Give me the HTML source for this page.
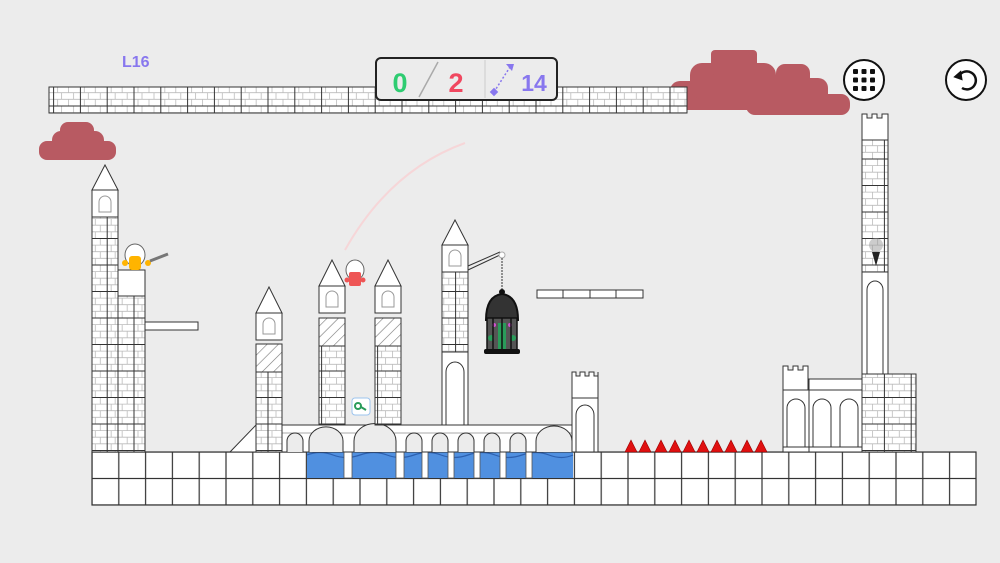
<!DOCTYPE html><html><head><style>html,body{margin:0;padding:0;background:#ececec}svg{display:block}</style></head><body>
<svg width="1000" height="563" viewBox="0 0 1000 563" xmlns="http://www.w3.org/2000/svg" font-family="Liberation Sans, sans-serif">
<defs>
<pattern id="br" width="26.8" height="26.5" patternUnits="userSpaceOnUse">
<rect width="26.8" height="26.5" fill="#fff"/>
<g stroke="#bbb" stroke-width="0.8" fill="none">
<path d="M0 6.6H26.8M0 13.2H26.8M0 19.8H26.8M8 0V6.6M20 0V6.6M4 6.6V13.2M15 6.6V13.2M8 13.2V19.8M20 13.2V19.8M4 19.8V26.5M15 19.8V26.5"/></g>
<rect width="26.8" height="26.5" fill="none" stroke="#333" stroke-width="1"/>
</pattern>
<pattern id="hat" width="8" height="8" patternUnits="userSpaceOnUse" patternTransform="rotate(45)">
<rect width="8" height="8" fill="#fff"/><line x1="0" y1="0" x2="0" y2="8" stroke="#777" stroke-width="1.2"/></pattern>
<pattern id="blk" width="26.8" height="26.5" patternUnits="userSpaceOnUse" x="92" y="452">
<rect width="26.8" height="26.5" fill="#fff" stroke="#333" stroke-width="1.2"/></pattern>
</defs>
<rect width="1000" height="563" fill="#ececec"/>
<!-- clouds -->
<g fill="#b85a62">
<rect x="39" y="141" width="77" height="19" rx="8"/><rect x="52" y="131" width="52" height="20" rx="9"/><rect x="60" y="122" width="34" height="18" rx="8"/>
<rect x="670" y="81" width="107" height="29" rx="10"/><rect x="690" y="63" width="86" height="36" rx="12"/><rect x="711" y="50" width="46" height="25" rx="4"/>
<rect x="746" y="94" width="104" height="21" rx="9"/><rect x="762" y="78" width="66" height="28" rx="10"/><rect x="776" y="64" width="34" height="24" rx="9"/>
</g>
<!-- top bar -->
<rect x="49" y="87" width="638" height="26" fill="url(#br)" stroke="#333"/>
<text x="122" y="67" font-size="16" fill="#8877ee" font-weight="bold">L16</text>
<!-- HUD -->
<rect x="376" y="58" width="181" height="42" rx="5" fill="#ececec" stroke="#222" stroke-width="2"/>
<line x1="438" y1="62" x2="419" y2="97" stroke="#aaa" stroke-width="1.5"/>
<line x1="485" y1="60" x2="485" y2="98" stroke="#ccc"/>
<text x="400" y="92" font-size="27" font-weight="bold" fill="#2ecc71" text-anchor="middle">0</text>
<text x="456" y="92" font-size="27" font-weight="bold" fill="#f04860" text-anchor="middle">2</text>
<line x1="494" y1="92" x2="510" y2="67" stroke="#8877ee" stroke-dasharray="2,2" stroke-width="1.5"/>
<polygon points="506,64 514,64 512,71" fill="#8877ee"/><rect x="491" y="89" width="6" height="6" fill="#8877ee" transform="rotate(45 494 92)"/>
<text x="534" y="91" font-size="23" font-weight="bold" fill="#8877ee" text-anchor="middle">14</text>
<!-- buttons -->
<circle cx="864" cy="80" r="20" fill="#fff" stroke="#111" stroke-width="2"/>
<g fill="#111"><rect x="853" y="69" width="5" height="5" rx="1"/><rect x="861.5" y="69" width="5" height="5" rx="1"/><rect x="870" y="69" width="5" height="5" rx="1"/><rect x="853" y="77.5" width="5" height="5" rx="1"/><rect x="861.5" y="77.5" width="5" height="5" rx="1"/><rect x="870" y="77.5" width="5" height="5" rx="1"/><rect x="853" y="86" width="5" height="5" rx="1"/><rect x="861.5" y="86" width="5" height="5" rx="1"/><rect x="870" y="86" width="5" height="5" rx="1"/></g>
<circle cx="966" cy="80" r="20" fill="#fff" stroke="#111" stroke-width="2"/>
<path d="M959 76 A9 9 0 1 1 962 88" fill="none" stroke="#111" stroke-width="2.5"/><polygon points="954,79 964,79 959,70" fill="#111" transform="rotate(20 959 76)"/>
<!-- trail -->
<path d="M345 250 Q390 170 465 143" fill="none" stroke="#f6d6d8" stroke-width="2"/>
<!-- ground -->
<rect x="92" y="452" width="884" height="53" fill="url(#blk)"/>
<rect x="92" y="452" width="884" height="53" fill="none" stroke="#333" stroke-width="1.2"/>
<!-- water -->
<rect x="307" y="452" width="266" height="26" fill="#5090e0"/>
<path d="M307 455 Q320 450 333 455 T360 455 T387 455 T414 455 T441 455 T468 455 T495 455 T522 455 T549 455 T573 455" fill="none" stroke="#2c60b0" stroke-width="1.2"/>
<g fill="#fff" stroke="#555" stroke-width="0.8"><rect x="344" y="452" width="8" height="26"/><rect x="396" y="452" width="8" height="26"/><rect x="422" y="452" width="6" height="26"/><rect x="448" y="452" width="6" height="26"/><rect x="474" y="452" width="6" height="26"/><rect x="500" y="452" width="6" height="26"/><rect x="526" y="452" width="6" height="26"/></g>
<!-- bridge -->
<rect x="282" y="425" width="290" height="27" fill="#fff" stroke="#333"/>
<line x1="282" y1="433" x2="572" y2="433" stroke="#aaa"/>
<g fill="#ececec" stroke="#333"><path d="M287 452V441a8 8 0 0 1 16 0V452"/><path d="M309 452V441a12 10 0 0 1 34 0V452"/><path d="M354 452V441a12 10 0 0 1 42 0V452"/><path d="M406 452V441a8 8 0 0 1 16 0V452"/><path d="M432 452V441a8 8 0 0 1 16 0V452"/><path d="M458 452V441a8 8 0 0 1 16 0V452"/><path d="M484 452V441a8 8 0 0 1 16 0V452"/><path d="M510 452V441a8 8 0 0 1 16 0V452"/><path d="M536 452V441a12 10 0 0 1 36 0V452"/></g>
<polygon points="230,452 256,425 256,452" fill="#fff" stroke="#333"/>
<!-- left tower -->
<polygon points="92,190 105,165 118,190" fill="#fff" stroke="#333"/>
<rect x="92" y="190" width="26" height="27" fill="#fff" stroke="#333"/>
<path d="M99 212V202a6 6 0 0 1 12 0V212Z" fill="none" stroke="#999"/>
<rect x="92" y="217" width="26" height="235" fill="url(#br)" stroke="#333"/>
<rect x="118" y="270" width="27" height="26" fill="#fff" stroke="#333"/>
<rect x="118" y="296" width="27" height="156" fill="url(#br)" stroke="#333"/>
<rect x="145" y="322" width="53" height="8" fill="#fff" stroke="#333"/>
<!-- yellow hero -->
<ellipse cx="135" cy="255" rx="10" ry="11" fill="#fff" stroke="#666"/>
<rect x="129" y="256" width="12" height="14" rx="3" fill="#ffb400"/>
<circle cx="125" cy="263" r="3" fill="#ffb400"/><circle cx="148" cy="263" r="3" fill="#ffb400"/>
<line x1="150" y1="261" x2="168" y2="254" stroke="#777" stroke-width="3"/>
<!-- tower A -->
<polygon points="256,313 269,287 282,313" fill="#fff" stroke="#333"/>
<rect x="256" y="313" width="26" height="27" fill="#fff" stroke="#333"/>
<path d="M263 334V324a6 6 0 0 1 12 0V334Z" fill="none" stroke="#999"/>
<rect x="256" y="344" width="26" height="28" fill="url(#hat)" stroke="#333"/>
<rect x="256" y="372" width="26" height="80" fill="url(#br)" stroke="#333"/>
<!-- tower B & C -->
<g id="tw">
<polygon points="319,286 332,260 345,286" fill="#fff" stroke="#333"/>
<rect x="319" y="286" width="26" height="27" fill="#fff" stroke="#333"/>
<path d="M326 307V297a6 6 0 0 1 12 0V307Z" fill="none" stroke="#999"/>
<rect x="319" y="318" width="26" height="28" fill="url(#hat)" stroke="#333"/>
<rect x="319" y="346" width="26" height="79" fill="url(#br)" stroke="#333"/>
</g>
<use href="#tw" x="56"/>
<!-- red hero -->
<ellipse cx="355" cy="270" rx="9" ry="10" fill="#fff" stroke="#666"/>
<rect x="349" y="272" width="12" height="14" rx="2" fill="#ee5555"/>
<circle cx="347" cy="280" r="2.5" fill="#ee5555"/><circle cx="363" cy="280" r="2.5" fill="#ee5555"/>
<!-- key bubble -->
<rect x="352" y="398" width="18" height="17" rx="3" fill="#fff" stroke="#9cc4ee"/>
<circle cx="358" cy="406" r="3" fill="none" stroke="#2a9c5a" stroke-width="2"/><line x1="361" y1="407" x2="366" y2="410" stroke="#2a9c5a" stroke-width="2"/>
<!-- tall tower D -->
<polygon points="442,245 455,220 468,245" fill="#fff" stroke="#333"/>
<rect x="442" y="245" width="26" height="27" fill="#fff" stroke="#333"/>
<path d="M449 266V256a6 6 0 0 1 12 0V266Z" fill="none" stroke="#999"/>
<rect x="442" y="272" width="26" height="80" fill="url(#br)" stroke="#333"/>
<rect x="442" y="352" width="26" height="73" fill="#fff" stroke="#333"/>
<path d="M446 425V372a9 10 0 0 1 18 0V425" fill="none" stroke="#333"/>
<path d="M468 270L502 254M468 266L500 252" stroke="#333" fill="none"/>
<circle cx="502" cy="255" r="3" fill="#fff" stroke="#aaa"/>
<line x1="502" y1="258" x2="502" y2="290" stroke="#333" stroke-dasharray="2,1"/>
<!-- cage -->
<path d="M486 320Q486 296 502 294Q518 296 518 320Z" fill="#333" stroke="#111" stroke-width="2"/>
<circle cx="502" cy="292" r="3" fill="#111"/>
<rect x="487" y="318" width="30" height="32" fill="#555" stroke="#111" stroke-width="1.5"/>
<rect x="498" y="323" width="8" height="27" fill="#2a9c5a"/>
<circle cx="491" cy="338" r="3" fill="#2a9c5a"/><circle cx="513" cy="338" r="3" fill="#2a9c5a"/>
<circle cx="494" cy="325" r="2" fill="#d050d0"/><circle cx="510" cy="325" r="2" fill="#d050d0"/>
<g stroke="#111" stroke-width="1.5"><line x1="493" y1="318" x2="493" y2="350"/><line x1="502" y1="318" x2="502" y2="350"/><line x1="511" y1="318" x2="511" y2="350"/></g>
<rect x="484" y="349" width="36" height="5" rx="2" fill="#111"/>
<!-- floating platform -->
<rect x="537" y="290" width="106" height="8" fill="#fff" stroke="#333"/>
<g stroke="#333"><line x1="563" y1="290" x2="563" y2="298"/><line x1="590" y1="290" x2="590" y2="298"/><line x1="616" y1="290" x2="616" y2="298"/></g>
<!-- small tower -->
<path d="M572 398V372h4v4h4v-4h5v4h4v-4h5v4h4v-4V398Z" fill="#fff" stroke="#333"/>
<rect x="572" y="398" width="26" height="54" fill="#fff" stroke="#333"/>
<path d="M576 452V415a9 10 0 0 1 18 0V452" fill="none" stroke="#333"/>
<!-- spikes -->
<g fill="#e01010" stroke="#900" stroke-width="0.6">
<polygon points="625,452 631,440 637,452"/><polygon points="639,452 645,440 651,452"/>
<polygon points="655,452 661,440 667,452"/><polygon points="669,452 675,440 681,452"/>
<polygon points="683,452 689,440 695,452"/><polygon points="697,452 703,440 709,452"/>
<polygon points="711,452 717,440 723,452"/><polygon points="725,452 731,440 737,452"/>
<polygon points="741,452 747,440 753,452"/><polygon points="755,452 761,440 767,452"/>
</g>
<!-- right castle -->
<path d="M783 390V366h5v4h5v-4h5v4h5v-4h5V390Z" fill="#fff" stroke="#333"/>
<rect x="783" y="390" width="26" height="62" fill="#fff" stroke="#333"/>
<rect x="809" y="379" width="53" height="11" fill="#fff" stroke="#333"/>
<rect x="809" y="390" width="53" height="62" fill="#fff" stroke="#333"/>
<g fill="none" stroke="#333"><path d="M787 447V408a9 9 0 0 1 18 0V447"/><path d="M813 447V408a9 9 0 0 1 18 0V447"/><path d="M840 447V408a9 9 0 0 1 18 0V447"/></g>
<line x1="783" y1="447" x2="862" y2="447" stroke="#333"/>
<path d="M862 140V114h5v4h5v-4h5v4h5v-4h6V140Z" fill="#fff" stroke="#333"/>
<rect x="862" y="140" width="26" height="132" fill="url(#br)" stroke="#333"/>
<rect x="862" y="272" width="26" height="102" fill="#fff" stroke="#333"/>
<path d="M867 374V290a8 9 0 0 1 16 0V374" fill="none" stroke="#333"/>
<rect x="862" y="374" width="54" height="78" fill="url(#br)" stroke="#333"/>
<circle cx="876" cy="245" r="7" fill="#999" opacity="0.5"/>
<polygon points="872,252 880,252 876,266" fill="#222"/>
</svg>
</body></html>
